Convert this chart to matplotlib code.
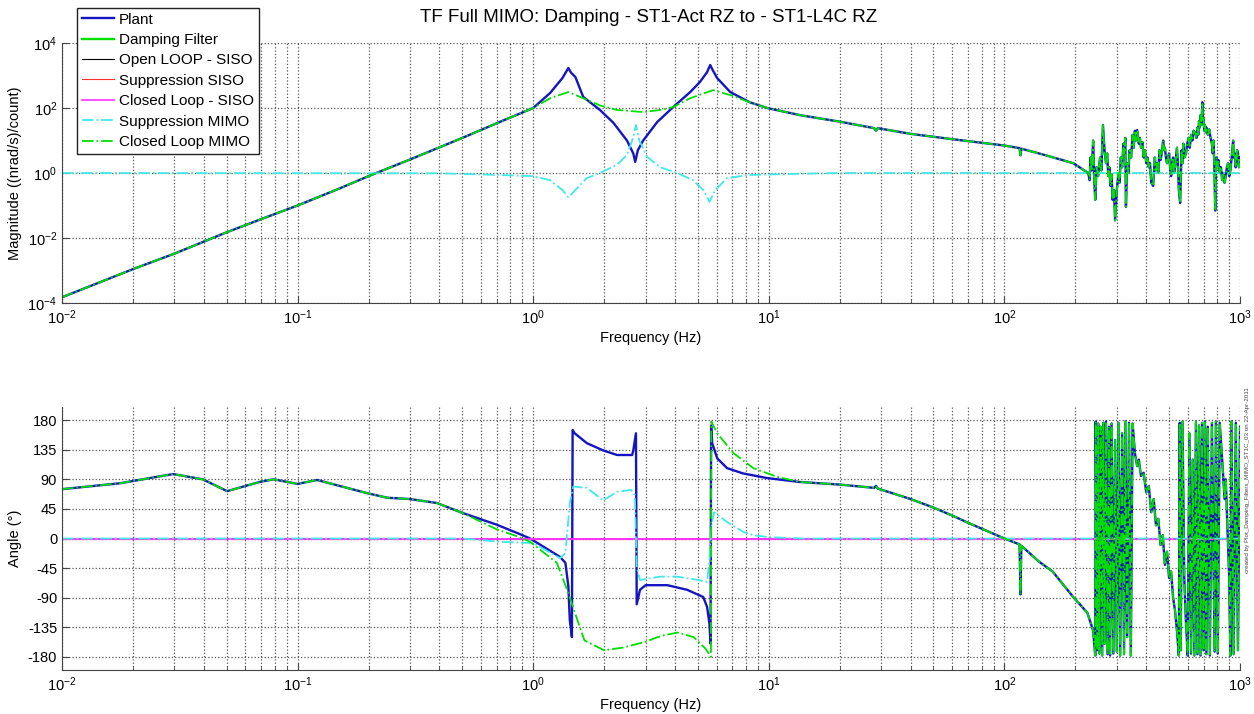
import matplotlib
matplotlib.use("Agg")
import matplotlib.pyplot as plt
import numpy as np
from matplotlib.ticker import LogLocator, NullLocator, FixedLocator

plt.rcParams['font.family'] = ['Liberation Sans', 'DejaVu Sans']
plt.rcParams['mathtext.default'] = 'regular'
plt.rcParams['axes.unicode_minus'] = False

title = "TF Full MIMO: Damping - ST1-Act RZ to - ST1-L4C RZ"
labels = ["Plant", "Damping Filter", "Open LOOP - SISO", "Suppression SISO",
          "Closed Loop - SISO", "Suppression MIMO", "Closed Loop MIMO"]

# ---- magnitude data ----
f_mag_low = [0.01, 0.02, 0.03, 0.05, 0.07, 0.1, 0.15, 0.2, 0.3, 0.5, 0.72, 1.0]
mag_low = [1.5e-4, 1.1e-3, 3.3e-3, 1.5e-2, 3.8e-2, 0.1, 0.33, 0.8, 2.6, 12, 37, 100]

f_mag_plant_mid = [1.18, 1.33, 1.38, 1.41, 1.45, 1.51, 1.63, 1.92, 2.19, 2.5, 2.66, 2.71,
                   2.78, 2.93, 3.36, 3.93, 4.64, 5.1, 5.47, 5.64, 5.8, 6.04, 6.86, 8.3, 9.84]
mag_plant_mid = [290, 830, 1300, 1700, 1200, 900, 220, 87, 35, 10, 4, 2.2,
                 5, 10, 37, 107, 310, 630, 1270, 2100, 1400, 830, 310, 150, 100]

f_mag_cl_mid = [1.18, 1.41, 1.63, 1.92, 2.27, 2.93, 3.46, 3.93, 4.64, 5.8, 6.86, 8.3, 9.84]
mag_cl_mid = [200, 310, 200, 120, 87, 75, 87, 107, 200, 355, 250, 150, 100]

f_mag_high = [13.6, 20, 28, 28.5, 29, 40, 60, 80, 100, 116, 117, 118, 150, 196,
              227, 230, 232, 235, 238, 241, 243, 246, 250, 253, 255, 258, 262, 266,
              270, 273, 276, 279, 282, 285, 288, 292, 295, 300, 305, 308, 312, 316,
              320, 323, 326, 328, 332, 336, 340, 345, 350, 354, 358, 362, 366, 372,
              376, 380, 385, 390, 395, 400, 405, 410, 415, 420, 428, 435, 440, 445,
              450, 455, 460, 465, 472, 476, 480, 485, 490, 495, 500, 505, 510, 515,
              520, 525, 530, 535, 540, 545, 550, 557, 565, 570, 575, 582, 590, 597,
              605, 612, 620, 628, 635, 646, 653, 660, 665, 670, 675, 680, 686, 692,
              696, 700, 705, 710, 715, 720, 730, 740, 750, 760, 766, 772, 778, 785,
              790, 795, 802, 810, 820, 830, 840, 850, 860, 870, 880, 890, 900, 910,
              922, 935, 942, 950, 958, 965, 972, 980, 990, 1000]
mag_high = [60, 38, 24, 20, 24, 16, 11, 8.5, 7, 5.8, 3.5, 5.6, 3.5, 2.0,
            1.0, 0.6, 3, 1.2, 10, 0.5, 0.15, 1.5, 0.8, 2, 3, 1.2, 30, 5,
            2, 4, 0.8, 1.5, 0.4, 0.9, 0.15, 0.3, 0.035, 0.3, 1, 0.5, 3, 1.5,
            8, 4, 12, 0.09, 2, 1, 5, 3, 15, 6, 20, 10, 21, 8,
            12, 6, 9, 3, 5, 2, 3, 1.5, 2, 0.5, 0.4, 3, 1.2, 2,
            1, 5, 2.5, 4, 10, 5, 6, 3, 2, 3, 4, 1.5, 0.8, 2,
            3, 1, 1.5, 3, 6, 2, 0.3, 0.12, 5, 2, 8, 3, 4, 8,
            12, 6, 15, 10, 20, 17, 12, 25, 15, 40, 25, 60, 30, 150,
            40, 50, 20, 30, 18, 25, 15, 22, 12, 8, 4, 10, 2, 0.07,
            1, 3, 1.5, 2.5, 1, 1.5, 0.6, 1, 0.5, 0.8, 1.5, 2, 0.8, 1.2,
            3, 10, 3, 4, 1.5, 2, 5, 4, 1.5, 3]

f_mag_sup = [0.01, 0.4, 0.72, 1.0, 1.18, 1.33, 1.41, 1.51, 1.69, 1.92, 2.27, 2.5, 2.66,
             2.73, 2.82, 3.05, 3.46, 4.08, 4.77, 5.27, 5.6, 5.93, 6.65, 8.3, 13.6, 20, 1000]
mag_sup = [1, 0.98, 0.87, 0.8, 0.6, 0.3, 0.18, 0.3, 0.7, 1.0, 1.8, 3.6, 12.6,
           30, 10, 3.1, 1.5, 1.0, 0.6, 0.3, 0.13, 0.3, 0.7, 0.87, 0.95, 1, 1]

# ---- phase data (deg) ----
f_ph_low = [0.01, 0.0176, 0.0296, 0.0396, 0.0502, 0.069, 0.079, 0.1, 0.121, 0.197,
            0.24, 0.30, 0.39, 0.50]
ph_low = [75, 84, 98, 90, 72, 86, 90, 83, 89, 69, 62, 60, 54, 39]

f_ph_plant_mid = [0.70, 0.86, 0.97, 1.30, 1.37, 1.41, 1.43, 1.46, 1.47, 1.50, 1.69, 1.98,
                  2.27, 2.63, 2.66, 2.73, 2.75, 2.84, 3.0, 3.71, 4.5, 5.27, 5.47, 5.6,
                  5.66, 5.69, 5.75, 6.04, 6.65, 7.77, 9.8]
ph_plant_mid = [21, 8, 0, -28, -37, -73, -124, -150, 165, 160, 145, 134,
                127, 127, 134, 160, -100, -78, -71, -71, -78, -89, -104, -130,
                -160, 172, 145, 122, 107, 99, 92]

f_ph_cl_mid = [0.70, 0.86, 0.97, 1.26, 1.41, 1.54, 1.65, 2.0, 2.4, 3.0, 3.5, 4.1, 4.8,
               5.4, 5.68, 5.70, 6.04, 7.07, 8.6, 10.8]
ph_cl_mid = [14, 3, -5, -37, -83, -124, -155, -170, -166, -157, -148, -143, -150,
             -168, -180, 178, 160, 130, 107, 94]

f_ph_high = [13.5, 20, 28, 28.5, 29, 40, 50, 60, 70, 80, 90, 100, 116, 117, 118, 140,
             160, 196, 225, 238, 243, 244, 248, 250, 253, 256, 260, 263, 266, 270,
             274, 278, 281, 285, 290, 295, 300, 305, 310, 316, 322, 326, 332, 338,
             344, 350, 358, 366, 372, 380, 390, 400, 410, 420, 430, 440, 450, 460,
             470, 480, 490, 500, 510, 520, 530, 540, 550, 555, 560, 570, 580, 590,
             600, 610, 620, 630, 640, 650, 660, 670, 680, 690, 700, 710, 720, 730,
             745, 760, 780, 790, 805, 820, 840, 860, 870, 880, 900, 910, 920, 940,
             960, 980, 1000]
ph_high = [86, 82, 77, 80, 76, 60, 47, 35, 24, 15, 7, 0, -9, -85, -11, -35,
           -50, -89, -113, -140, -178, 178, -170, 175, -175, 170, -178, 176, -160, 178,
           -176, 170, -178, 175, -175, 150, -172, 176, -178, 160, -176, 178, -150, 176,
           -178, 175, 130, 110, 120, 95, 100, 70, 80, 40, 60, 20, 30, -10,
           5, -40, -20, -60, -50, -90, -110, -140, -178, 176, -170, 178, -60, -130,
           -178, 160, -175, 120, -178, 178, -176, 172, -178, 176, -170, 178, -176, 170,
           -178, 176, -172, 178, -175, 176, 120, 60, 90, 40, -60, -178, 178, -176,
           176, -170, 170]

f_ph_sup = [0.01, 0.5, 0.72, 1.0, 1.3, 1.37, 1.43, 1.48, 1.69, 1.98, 2.27, 2.6, 2.7,
            2.75, 2.84, 3.46, 4.08, 5.0, 5.47, 5.6, 5.7, 5.85, 6.65, 7.8, 8.6, 10, 14, 1000]
ph_sup = [0, 0, -5, -7, -30, -22, 54, 79, 77, 58, 71, 74, 66,
          -43, -63, -58, -58, -63, -66, -33, 18, 40, 25, 10, 5, 2, 0, 0]

f_flat = [0.01, 1000]
ph_flat = [0, 0]

# assemble series
f_mag_plant = f_mag_low + f_mag_plant_mid + f_mag_high
mag_plant = mag_low + mag_plant_mid + mag_high
f_mag_cl = f_mag_low + f_mag_cl_mid + f_mag_high
mag_cl = mag_low + mag_cl_mid + mag_high
f_ph_plant = f_ph_low + f_ph_plant_mid + f_ph_high
ph_plant = ph_low + ph_plant_mid + ph_high
f_ph_cl = f_ph_low + f_ph_cl_mid + f_ph_high
ph_cl = ph_low + ph_cl_mid + ph_high

c_plant = '#1414c0'
c_green = '#00e000'
c_cyan = '#40e8e8'
c_mag = '#ff30ff'
c_red = '#ff3030'

fig = plt.figure(figsize=(12.54, 7.14), dpi=100)
ax1 = fig.add_axes([62/1254, 1-303/714, 1178/1254, 260/714])
ax2 = fig.add_axes([62/1254, 1-670/714, 1178/1254, 263/714])

# magnitude
ax1.loglog(f_mag_plant, mag_plant, color=c_plant, lw=1.7, label=labels[0])
ax1.plot([], [], color=c_green, lw=1.7, label=labels[1])
ax1.plot([], [], color='black', lw=0.8, label=labels[2])
ax1.plot([], [], color=c_red, lw=0.8, label=labels[3])
ax1.plot([], [], color=c_mag, lw=1.2, label=labels[4])
ax1.plot(f_mag_sup, mag_sup, color=c_cyan, lw=1.3, ls='-.', label=labels[5])
ax1.plot(f_mag_cl, mag_cl, color=c_green, lw=1.3, ls='-.', label=labels[6])

# phase
ax2.semilogx(f_ph_plant, ph_plant, color=c_plant, lw=1.7)
ax2.plot(f_flat, ph_flat, color=c_red, lw=0.8)
ax2.plot(f_flat, ph_flat, color=c_mag, lw=1.4)
ax2.plot(f_ph_sup, ph_sup, color=c_cyan, lw=1.3, ls='-.')
ax2.plot(f_ph_cl, ph_cl, color=c_green, lw=1.3, ls='-.')

for ax in (ax1, ax2):
    ax.set_xlim(1e-2, 1e3)
    ax.xaxis.set_major_locator(LogLocator(base=10, numticks=10))
    ax.xaxis.set_minor_locator(LogLocator(base=10, subs=np.arange(2, 10), numticks=20))
    ax.grid(True, which='major', axis='both', ls=':', color='#555555', lw=0.9)
    ax.grid(True, which='minor', axis='x', ls=':', color='#555555', lw=0.9)
    ax.spines['top'].set_visible(False)
    ax.spines['right'].set_visible(False)
    ax.spines['left'].set_color('#444444')
    ax.spines['bottom'].set_color('#444444')
    ax.tick_params(which='both', direction='in', labelsize=10.5, color='#444444')
    ax.tick_params(which='major', length=5)
    ax.tick_params(which='minor', length=3)
    ax.tick_params(axis='x', pad=4)
    ax.set_xlabel("Frequency (Hz)", fontsize=10.5, labelpad=3)

ax1.set_ylim(1e-4, 1e4)
ax1.yaxis.set_major_locator(FixedLocator([1e-4, 1e-2, 1, 1e2, 1e4]))
ax1.yaxis.set_minor_locator(NullLocator())
ax1.set_ylabel("Magnitude ((nrad/s)/count)", fontsize=10.5, labelpad=4)

ax2.set_ylim(-200, 200)
ax2.set_yticks([-180, -135, -90, -45, 0, 45, 90, 135, 180])
ax2.set_ylabel("Angle (°)", fontsize=10.5, labelpad=4)

fig.text(649/1254, 1-18/714, title, ha='center', va='center', fontsize=13.5)

fig.legend(loc='upper left', bbox_to_anchor=(77/1254, 1-8/714), fontsize=11,
           frameon=True, fancybox=False, framealpha=1, edgecolor='#222222',
           labelspacing=0.42, handlelength=2.1, handletextpad=0.35, borderpad=0.3,
           borderaxespad=0)

fig.text(1247/1254, 1-480/714,
         "created by Plot_Damping_Filters_MIMO_ST1C_03 on 22-Apr-2011",
         rotation=90, ha='center', va='center', fontsize=4.5, color='#444444')

fig.savefig("out.png", dpi=100)
